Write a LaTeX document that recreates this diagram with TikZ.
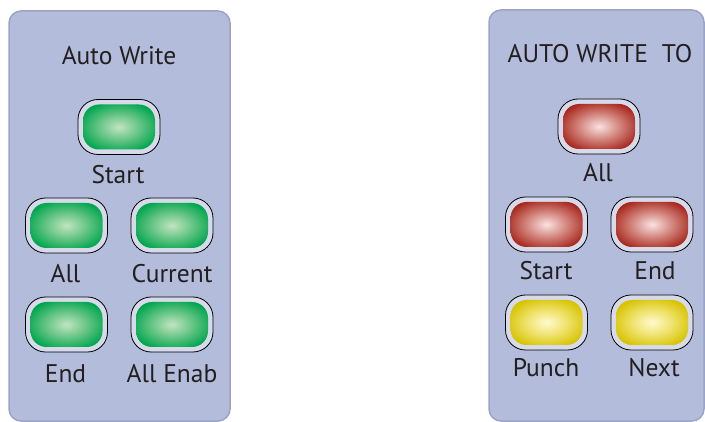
\documentclass[tikz,border=0pt]{standalone}
\usepackage{fontspec}
\setmainfont{PT Sans}
\definecolor{panelfill}{HTML}{B3BCDA}
\definecolor{paneledge}{HTML}{9CA4C6}
\definecolor{ringcol}{HTML}{D6DAEA}
\definecolor{txt}{HTML}{231F20}
\definecolor{grnedge}{HTML}{00A64F}
\definecolor{grnmid}{HTML}{62C383}
\definecolor{grncore}{HTML}{C2E4C2}
\definecolor{rededge}{HTML}{A8281E}
\definecolor{redmid}{HTML}{D08078}
\definecolor{redcore}{HTML}{FAE2E2}
\definecolor{yeledge}{HTML}{D6C300}
\definecolor{yelmid}{HTML}{EEE066}
\definecolor{yelcore}{HTML}{FFFAD0}
\pgfdeclareradialshading{shgreen}{\pgfpoint{0bp}{0bp}}{color(0bp)=(grncore); color(15bp)=(grnmid); color(29bp)=(grnedge); color(50bp)=(grnedge)}
\pgfdeclareradialshading{shred}{\pgfpoint{0bp}{0bp}}{color(0bp)=(redcore); color(15bp)=(redmid); color(29bp)=(rededge); color(50bp)=(rededge)}
\pgfdeclareradialshading{shyellow}{\pgfpoint{0bp}{0bp}}{color(0bp)=(yelcore); color(15bp)=(yelmid); color(29bp)=(yeledge); color(50bp)=(yeledge)}
\tikzset{
  panel/.style={draw=paneledge, line width=1.5pt, fill=panelfill, rounded corners=12pt, inner sep=0pt},
  btnouter/.style={draw=black, line width=0.8pt, fill=ringcol, rounded corners=20pt,
    minimum width=82pt, minimum height=55pt, inner sep=0pt},
  btninner/.style={rounded corners=16pt, minimum width=72pt, minimum height=45pt, inner sep=0pt},
  glowgreen/.style={shading=shgreen},
  glowred/.style={shading=shred},
  glowyellow/.style={shading=shyellow},
  lbl/.style={font=\fontsize{25.5}{30}\selectfont, text=txt, anchor=base, inner sep=0pt},
}
\newcommand\mkbutton[4]{%
  \node[btnouter] (#1) at (#2,#3) {};
  \node[btninner,#4] (#1in) at (#2,#3) {};
}
\begin{document}
\begin{tikzpicture}[x=1pt,y=-1pt]
\useasboundingbox (0,0) rectangle (705,422);
% panels
\node[panel, minimum width=221pt, minimum height=410pt] (panelL) at (119.5,216) {};
\node[panel, minimum width=215pt, minimum height=411pt] (panelR) at (596.5,215.5) {};
% left panel
\node[lbl] (titleL) at (119,65) {Auto Write};
\mkbutton{bStart}{119}{127}{glowgreen}
\mkbutton{bAll}{66.5}{225.5}{glowgreen}
\mkbutton{bCurrent}{172}{225.5}{glowgreen}
\mkbutton{bEnd}{66.5}{324.5}{glowgreen}
\mkbutton{bAllEnab}{172}{324.5}{glowgreen}
\node[lbl] (lStart) at (118,184) {Start};
\node[lbl] (lAll) at (65.5,283) {All};
\node[lbl] (lCurrent) at (172,283) {Current};
\node[lbl] (lEnd) at (65.5,382) {End};
\node[lbl] (lAllEnab) at (172,382) {All Enab};
% right panel
\node[lbl] (titleR) at (600,63) {AUTO WRITE\hspace{0.55em}TO};
\mkbutton{rAll}{599}{126.5}{glowred}
\mkbutton{rStart}{546.5}{224.5}{glowred}
\mkbutton{rEnd}{652}{224.5}{glowred}
\mkbutton{rPunch}{546.5}{322.5}{glowyellow}
\mkbutton{rNext}{652}{322.5}{glowyellow}
\node[lbl] (mAll) at (598,182) {All};
\node[lbl] (mStart) at (546,280) {Start};
\node[lbl] (mEnd) at (655,280) {End};
\node[lbl] (mPunch) at (546,377) {Punch};
\node[lbl] (mNext) at (654,377) {Next};
\end{tikzpicture}
\end{document}
